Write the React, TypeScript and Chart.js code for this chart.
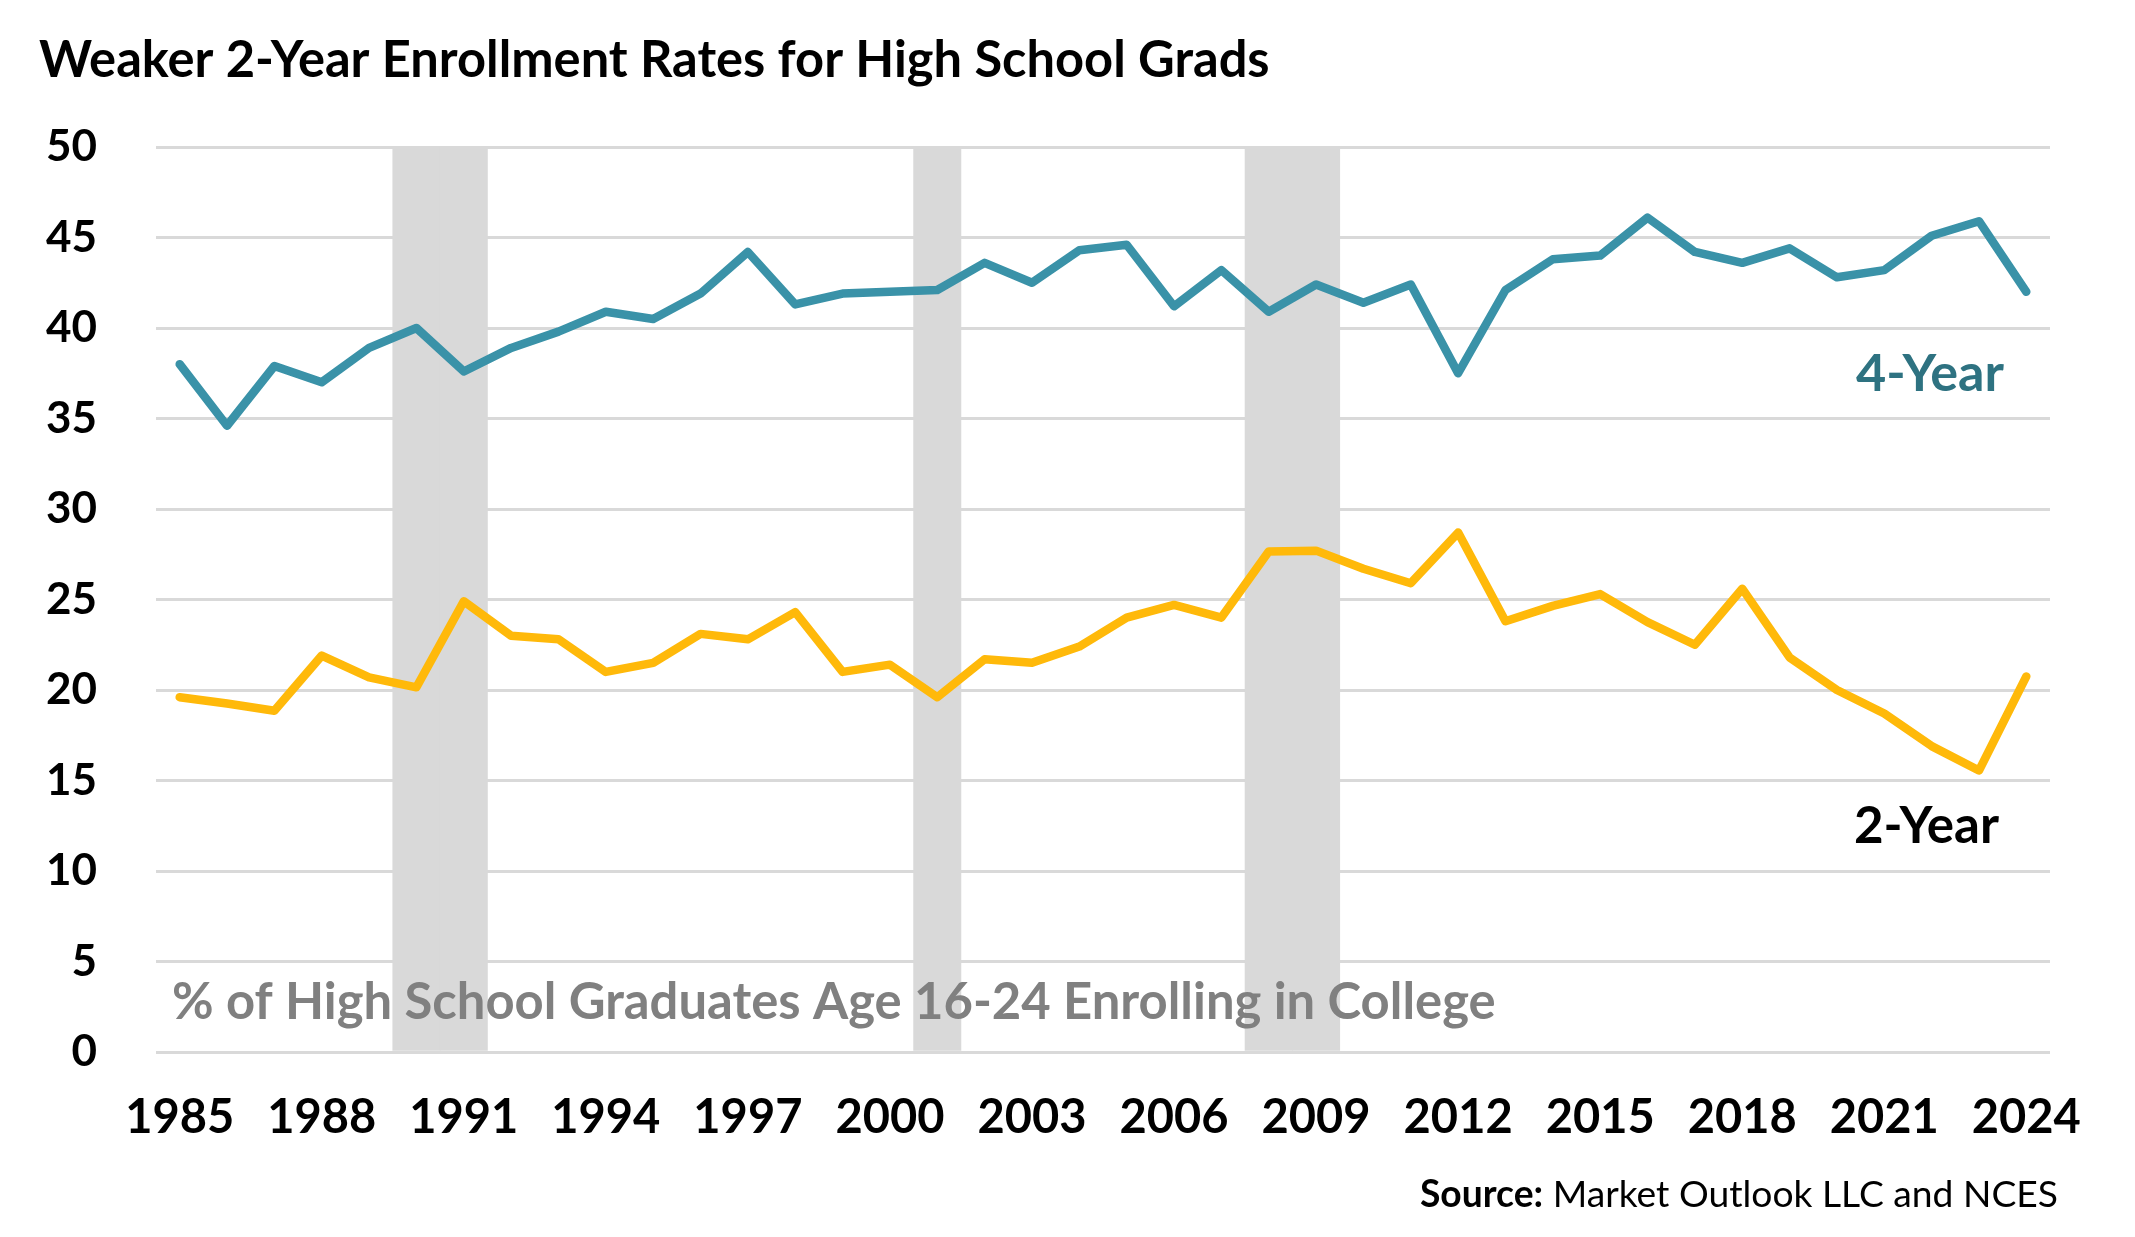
import React, { useEffect, useRef } from "react";
import { Chart, registerables } from "chart.js";

Chart.register(...registerables);

const years: string[] = [
  "1985", "1986", "1987", "1988", "1989", "1990", "1991", "1992", "1993", "1994",
  "1995", "1996", "1997", "1998", "1999", "2000", "2001", "2002", "2003", "2004",
  "2005", "2006", "2007", "2008", "2009", "2010", "2011", "2012", "2013", "2014",
  "2015", "2016", "2017", "2018", "2019", "2020", "2021", "2022", "2023", "2024",
];

const fourYear: number[] = [
  38.0, 34.6, 37.9, 37.0, 38.9, 40.0, 37.6, 38.9, 39.8, 40.9,
  40.5, 41.9, 44.2, 41.3, 41.9, 42.0, 42.1, 43.6, 42.5, 44.3,
  44.6, 41.2, 43.2, 40.9, 42.4, 41.4, 42.4, 37.5, 42.1, 43.8,
  44.0, 46.1, 44.2, 43.6, 44.4, 42.8, 43.2, 45.1, 45.9, 42.0,
];

const twoYear: number[] = [
  19.6, 19.25, 18.85, 21.9, 20.7, 20.15, 24.9, 23.0, 22.8, 21.0,
  21.5, 23.1, 22.8, 24.3, 21.0, 21.4, 19.6, 21.7, 21.5, 22.4,
  24.0, 24.7, 24.0, 27.65, 27.7, 26.7, 25.9, 28.7, 23.8, 24.65,
  25.3, 23.75, 22.5, 25.6, 21.8, 20.0, 18.7, 16.9, 15.55, 20.75,
];

const recessionYears: string[] = ["1990", "1991", "2001", "2008", "2009"];
const recessionTop = 50;

const titleText = "Weaker 2-Year Enrollment Rates for High School Grads";
const fourLabel = "4-Year";
const twoLabel = "2-Year";
const noteText = "% of High School Graduates Age 16-24 Enrolling in College";
const sourceBold = "Source:";
const sourceRest = " Market Outlook LLC and NCES";

const W = 2135;
const H = 1237;
const FAMILY = "Lato, 'Noto Sans', sans-serif";

function fitFont(ctx: CanvasRenderingContext2D, text: string, weight: string, target: number): number {
  ctx.font = `${weight} 100px ${FAMILY}`;
  const w = ctx.measureText(text).width;
  return (100 * target) / w;
}

const textPlugin = {
  id: "textAnnotations",
  afterDraw(chart: any) {
    const ctx: CanvasRenderingContext2D = chart.ctx;
    ctx.save();
    ctx.textBaseline = "alphabetic";

    // Title
    let s = fitFont(ctx, titleText, "bold", 1231);
    ctx.font = `bold ${s}px ${FAMILY}`;
    ctx.fillStyle = "#000000";
    ctx.textAlign = "left";
    ctx.fillText(titleText, 39, 77);

    // 4-Year label
    s = fitFont(ctx, fourLabel, "bold", 148);
    ctx.font = `bold ${s}px ${FAMILY}`;
    ctx.fillStyle = "#2E7281";
    ctx.fillText(fourLabel, 1856, 391);

    // 2-Year label
    s = fitFont(ctx, twoLabel, "bold", 145);
    ctx.font = `bold ${s}px ${FAMILY}`;
    ctx.fillStyle = "#000000";
    ctx.fillText(twoLabel, 1854, 843);

    // Note
    s = fitFont(ctx, noteText, "bold", 1324);
    ctx.font = `bold ${s}px ${FAMILY}`;
    ctx.fillStyle = "#808080";
    ctx.fillText(noteText, 172, 1019);

    // Source (right aligned)
    const srcSize = 36;
    ctx.font = `bold ${srcSize}px ${FAMILY}`;
    const wb = ctx.measureText(sourceBold).width;
    ctx.font = `normal ${srcSize}px ${FAMILY}`;
    const wr = ctx.measureText(sourceRest).width;
    const total = wb + wr;
    const scale = 638 / total;
    const fs = srcSize * scale;
    ctx.font = `bold ${fs}px ${FAMILY}`;
    const wb2 = ctx.measureText(sourceBold).width;
    const startX = 2058 - 638;
    ctx.fillStyle = "#000000";
    ctx.fillText(sourceBold, startX, 1207);
    ctx.font = `normal ${fs}px ${FAMILY}`;
    ctx.fillText(sourceRest, startX + wb2, 1207);

    ctx.restore();
  },
};

export default function App() {
  const ref = useRef<HTMLCanvasElement | null>(null);

  useEffect(() => {
    document.body.style.margin = "0";
    const canvas = ref.current;
    if (!canvas) return;

    const recessionData = years.map((y) => (recessionYears.includes(y) ? recessionTop : null));

    const chart = new Chart(canvas, {
      type: "line",
      data: {
        labels: years,
        datasets: [
          {
            type: "line",
            label: "4-Year",
            data: fourYear,
            borderColor: "#3A92A8",
            borderWidth: 8.5,
            pointRadius: 0,
            tension: 0,
            borderCapStyle: "round",
            borderJoinStyle: "round",
            fill: false,
            order: 1,
          },
          {
            type: "line",
            label: "2-Year",
            data: twoYear,
            borderColor: "#FFB90A",
            borderWidth: 8.5,
            pointRadius: 0,
            tension: 0,
            borderCapStyle: "round",
            borderJoinStyle: "round",
            fill: false,
            order: 2,
          },
          {
            type: "bar",
            label: "Recession",
            data: recessionData as any,
            backgroundColor: "#D9D9D9",
            borderWidth: 0,
            barPercentage: 1,
            categoryPercentage: 1,
            order: 3,
          } as any,
        ],
      },
      options: {
        responsive: false,
        devicePixelRatio: 1,
        animation: false,
        layout: { padding: { left: 0, right: 85, top: 147, bottom: 0 } },
        plugins: {
          legend: { display: false },
          tooltip: { enabled: false },
          title: { display: false },
        },
        scales: {
          x: {
            type: "category",
            offset: true,
            grid: { display: false, drawTicks: false },
            border: { display: false },
            ticks: {
              autoSkip: false,
              maxRotation: 0,
              minRotation: 0,
              padding: 38,
              color: "#000000",
              font: { family: FAMILY, size: 47, weight: "bold" },
              callback: (_v: any, i: number) => (i % 3 === 0 ? years[i] : ""),
            },
            afterFit: (scale: any) => {
              scale.height = H - 1052;
            },
          },
          y: {
            min: 0,
            max: 50,
            grid: { color: "#D9D9D9", lineWidth: 3, drawTicks: false },
            border: { display: false },
            ticks: {
              stepSize: 5,
              padding: 59,
              color: "#000000",
              font: { family: FAMILY, size: 44, weight: "bold" },
            },
            afterFit: (scale: any) => {
              scale.width = 156;
            },
          },
        },
      },
      plugins: [textPlugin],
    });

    return () => chart.destroy();
  }, []);

  return <canvas ref={ref} width={W} height={H} style={{ display: "block", width: W, height: H }} />;
}
